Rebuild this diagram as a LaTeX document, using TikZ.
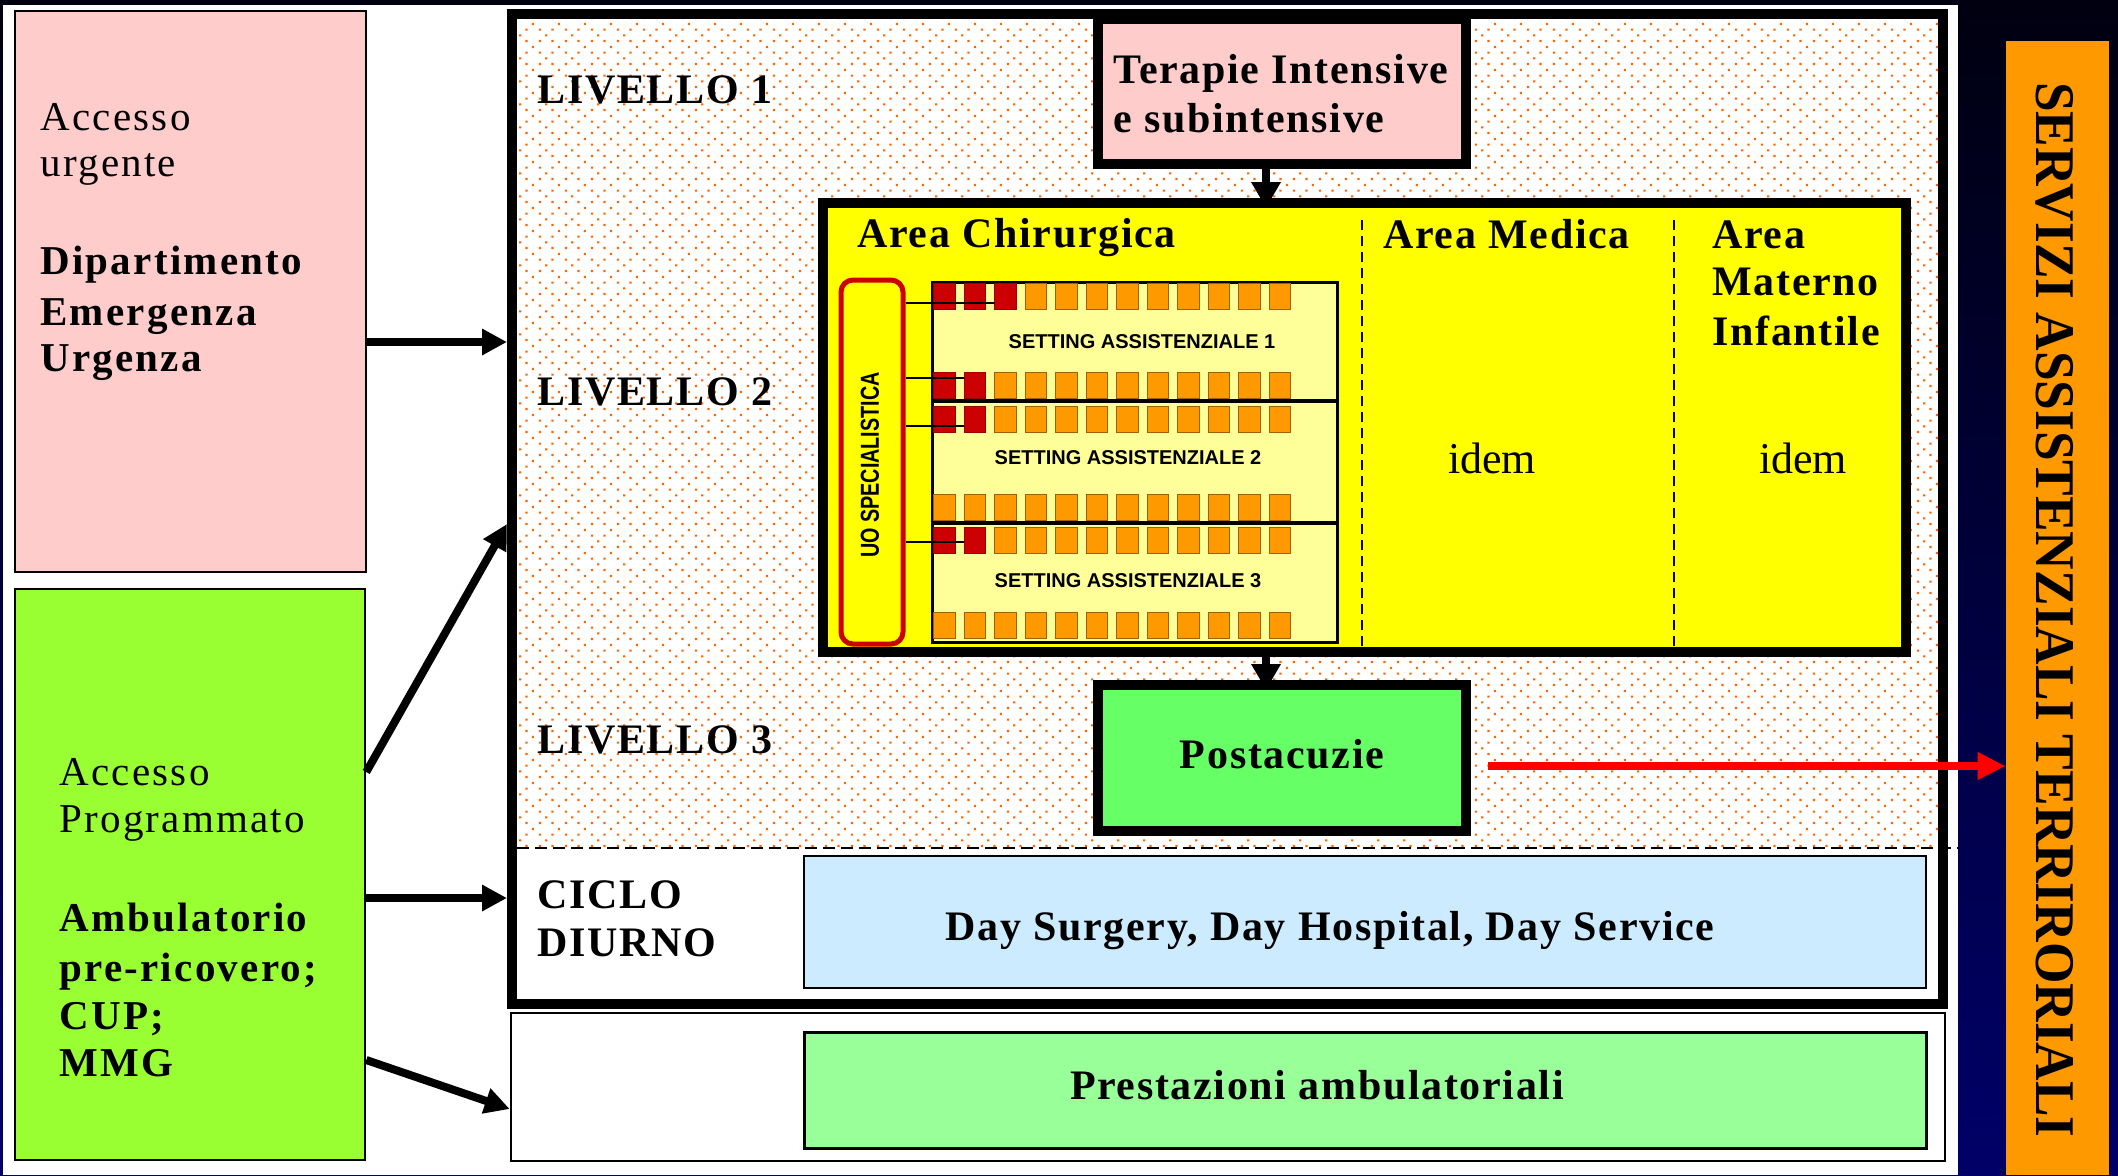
\documentclass[tikz,border=0pt]{standalone}
\usepackage{fontspec}
\usepackage{graphicx}
\setmainfont{Liberation Serif}
\setsansfont{Liberation Sans}
\newfontfamily\lsA[LetterSpace=4]{Liberation Serif}
\newfontfamily\lsB[LetterSpace=5.5]{Liberation Serif}
\usetikzlibrary{arrows.meta,patterns,fit,calc}
\pgfdeclarepatternformonly{odots}{\pgfpointorigin}{\pgfpoint{12.8pt}{11.7pt}}{\pgfpoint{12.8pt}{11.7pt}}{%
  \pgfpathrectangle{\pgfpoint{0.45pt}{0.45pt}}{\pgfpoint{1.1pt}{1.1pt}}%
  \pgfpathrectangle{\pgfpoint{6.85pt}{0.45pt}}{\pgfpoint{1.1pt}{1.1pt}}%
  \pgfpathrectangle{\pgfpoint{0.45pt}{6.3pt}}{\pgfpoint{1.1pt}{1.1pt}}%
  \pgfpathrectangle{\pgfpoint{6.85pt}{6.3pt}}{\pgfpoint{1.1pt}{1.1pt}}%
  \pgfpathrectangle{\pgfpoint{3.65pt}{3.375pt}}{\pgfpoint{1.1pt}{1.1pt}}%
  \pgfpathrectangle{\pgfpoint{10.05pt}{9.225pt}}{\pgfpoint{1.1pt}{1.1pt}}%
  \pgfusepath{fill}}
\definecolor{bgtop}{HTML}{000010}
\definecolor{bgbot}{HTML}{000068}
\definecolor{pinkc}{HTML}{FFCCCC}
\definecolor{greenc}{HTML}{99FF33}
\definecolor{postc}{HTML}{66FF66}
\definecolor{dayc}{HTML}{CCEBFF}
\definecolor{prestc}{HTML}{99FF99}
\definecolor{yelc}{HTML}{FFFF00}
\definecolor{lyelc}{HTML}{FFFF99}
\definecolor{sqor}{HTML}{FF9900}
\definecolor{sqedge}{HTML}{A06000}
\definecolor{sqred}{HTML}{CC0000}
\definecolor{sqrededge}{HTML}{990000}
\definecolor{servc}{HTML}{FF9900}
\definecolor{dotc}{HTML}{FF6600}
\definecolor{uored}{HTML}{CC0000}
\definecolor{redarrow}{HTML}{FF0000}
\tikzset{
  box/.style={draw=black, inner sep=0pt},
  thickbox/.style={box, line width=5pt},
  thinbox/.style={box, line width=1.25pt},
  arr/.style={line width=4pt, -{Triangle[length=12.5pt,width=12.5pt]}},
  downarr/.style={line width=4pt, -{Triangle[length=13pt,width=14pt]}, shorten >=-5pt},
  redarr/.style={draw=redarrow, line width=4pt, -{Triangle[length=14pt,width=13pt]}},
  lab/.style={inner sep=0pt, font=\lsA\bfseries\fontsize{21pt}{24pt}\selectfont},
  side/.style={inner sep=0pt, anchor=base west, font=\lsB\fontsize{20.5pt}{24pt}\selectfont},
  sideb/.style={inner sep=0pt, anchor=base west, font=\lsB\bfseries\fontsize{20.5pt}{24pt}\selectfont},
  plain/.style={inner sep=0pt, font=\fontsize{22pt}{26pt}\selectfont},
  setlab/.style={inner sep=0pt, font=\sffamily\bfseries\fontsize{10pt}{12pt}\selectfont},
  sq/.style={draw=sqedge, line width=0.5pt, fill=sqor, minimum width=10.75pt, minimum height=13pt, inner sep=0pt, outer sep=0pt, anchor=north west},
  sqr/.style={sq, draw=sqrededge, fill=sqred},
  dashsep/.style={line width=1.25pt, dash pattern=on 5pt off 3pt},
  link/.style={line width=1.25pt}
}
\begin{document}
\begin{tikzpicture}[x=0.5pt,y=-0.5pt]
\useasboundingbox (0,0) rectangle (2118,1175);
\shade[top color=bgtop, bottom color=bgbot] (0,0) rectangle (2118,1175);
\fill[white] (3,5) rectangle (1958,1175);

% right orange band
\node (servbox) [fill=servc, inner sep=0pt, fit={(2006,41) (2109,1175)}] {};
\node (servtxt) [rotate=-90, inner sep=0pt, font=\bfseries\fontsize{28pt}{30pt}\selectfont] at (2055,610)
  {\scalebox{0.952}[1]{SERVIZI ASSISTENZIALI TERRIRORIALI}};

% named helper coordinates
\coordinate (y342) at (0,342);
\coordinate (y524) at (0,524);
\coordinate (y898) at (0,898);
\coordinate (y772) at (0,772);
\coordinate (y1060) at (0,1060);
\coordinate (y1109) at (0,1109);
\coordinate (y766) at (0,766);
\coordinate (xarr) at (1266,0);

% dotted area and main frame
\fill[pattern=odots, pattern color=dotc] (517,19) rectangle (1938,848);
\node (frame) [thickbox, fit={(512,14) (1943,1004)}] {};
\draw[dashsep, dash pattern=on 6pt off 3pt] (517,848) -- (1958,848);

% left boxes
\node (pink) [thinbox, fill=pinkc, fit={(15,11) (366,572)}] {};
\node (green) [thinbox, fill=greenc, fit={(15,589) (365,1160)}] {};

\node (p1) [side] at (40,130) {Accesso};
\node (p2) [side] at (40,176) {urgente};
\node (p3) [sideb] at (40,274) {Dipartimento};
\node (p4) [sideb] at (40,325) {Emergenza};
\node (p5) [sideb] at (40,371) {Urgenza};

\node (g1) [side] at (59,785) {Accesso};
\node (g2) [side] at (59,832) {Programmato};
\node (g3) [sideb] at (59,931) {Ambulatorio};
\node (g4) [sideb] at (59,981) {pre-ricovero;};
\node (g5) [sideb] at (59,1029) {CUP;};
\node (g6) [sideb] at (59,1076) {MMG};

% levels
\node (l1) [lab, anchor=base west] at (537,103) {LIVELLO 1};
\node (l2) [lab, anchor=base west] at (537,405) {LIVELLO 2};
\node (l3) [lab, anchor=base west] at (537,753) {LIVELLO 3};
\node (c1) [lab, anchor=base west] at (537,908) {CICLO};
\node (c2) [lab, anchor=base west] at (537,956) {DIURNO};

% terapie box
\node (ter) [thickbox, fill=pinkc, fit={(1098,19) (1466,164)}] {};
\node (t1) [lab, anchor=base west] at (1113,83) {Terapie Intensive};
\node (t2) [lab, anchor=base west] at (1113,132) {e subintensive};

% yellow area
\node (yel) [thickbox, fill=yelc, fit={(823,203) (1906,652)}] {};
\draw[dashsep] (1362,220) -- (1362,648);
\draw[dashsep] (1674,220) -- (1674,648);
\node (a1) [lab, anchor=base west] at (857,247) {Area Chirurgica};
\node (a2) [lab, anchor=base west] at (1383,248) {Area Medica};
\node (a3) [lab, anchor=base west] at (1712,248) {Area};
\node (a4) [lab, anchor=base west] at (1712,295) {Materno};
\node (a5) [lab, anchor=base west] at (1712,345) {Infantile};
\node (i1) [plain, anchor=base] at (1492,473) {idem};
\node (i2) [plain, anchor=base] at (1803,473) {idem};

% settings block
\node (set) [box, line width=1.5pt, fill=lyelc, fit={(932,282) (1337,642)}] {};
\foreach \r/\yy/\nred in {A/283/3, B/372/2, C/406/2, D/494/0, E/527/2, F/612/0} {
  \foreach \i in {0,...,11} {
    \ifnum\i<\nred
      \node (sq-\r-\i) [sqr] at (933.6+30.5*\i,\yy) {};
    \else
      \node (sq-\r-\i) [sq] at (933.6+30.5*\i,\yy) {};
    \fi
  }
}
\coordinate (d1) at (0,401);
\coordinate (d2) at (0,523);
\draw[line width=2pt] (set.west |- d1) -- (set.east |- d1);
\draw[line width=2pt] (set.west |- d2) -- (set.east |- d2);
\node (s1) [setlab] at (1142,342) {SETTING ASSISTENZIALE 1};
\node (s2) [setlab] at (1128,458) {SETTING ASSISTENZIALE 2};
\node (s3) [setlab] at (1128,581) {SETTING ASSISTENZIALE 3};

% UO specialistica
\node (uo) [draw=uored, line width=2.5pt, rounded corners=6pt, fill=yelc, inner sep=0pt, fit={(841,280) (903,644)}] {};
\node (uotxt) [rotate=90, inner sep=0pt, font=\sffamily\bfseries\fontsize{13pt}{15pt}\selectfont] at (870,465)
  {\scalebox{0.76}[1]{UO SPECIALISTICA}};
\coordinate (lA) at (994.6,303);
\coordinate (lB) at (964.1,378);
\coordinate (lC) at (964.1,426);
\coordinate (lE) at (964.1,542);
\foreach \c in {lA,lB,lC,lE} \draw[link] (uo.east |- \c) -- (\c);

% postacuzie
\node (post) [thickbox, fill=postc, fit={(1098,685) (1466,831)}] {};
\node (posttxt) [lab, anchor=base] at (1282,768) {Postacuzie};

% ciclo diurno & ambulatoriali
\node (day) [box, line width=1.25pt, fill=dayc, fit={(804,856) (1926,988)}] {};
\node (daytxt) [lab, anchor=base] at (1330,940) {Day Surgery, Day Hospital, Day Service};
\node (ambf) [box, line width=1.25pt, fill=white, fit={(511,1013) (1945,1161)}] {};
\node (prest) [box, line width=1.5pt, fill=prestc, fit={(804,1032) (1926,1148)}] {};
\node (presttxt) [lab, anchor=base] at (1317,1099) {Prestazioni ambulatoriali};

% connectors
\draw[arr] (pink.east |- y342) -- (frame.west |- y342);
\draw[arr] (green.east |- y772) -- (frame.west |- y524);
\draw[arr] (green.east |- y898) -- (frame.west |- y898);
\draw[arr] (green.east |- y1060) -- (ambf.west |- y1109);
\draw[downarr] (xarr |- ter.south) -- (xarr |- yel.north);
\draw[downarr] (xarr |- yel.south) -- (xarr |- post.north);
\draw[redarr, shorten <=8.5pt] (post.east |- y766) -- (servbox.west |- y766);
\end{tikzpicture}
\end{document}
